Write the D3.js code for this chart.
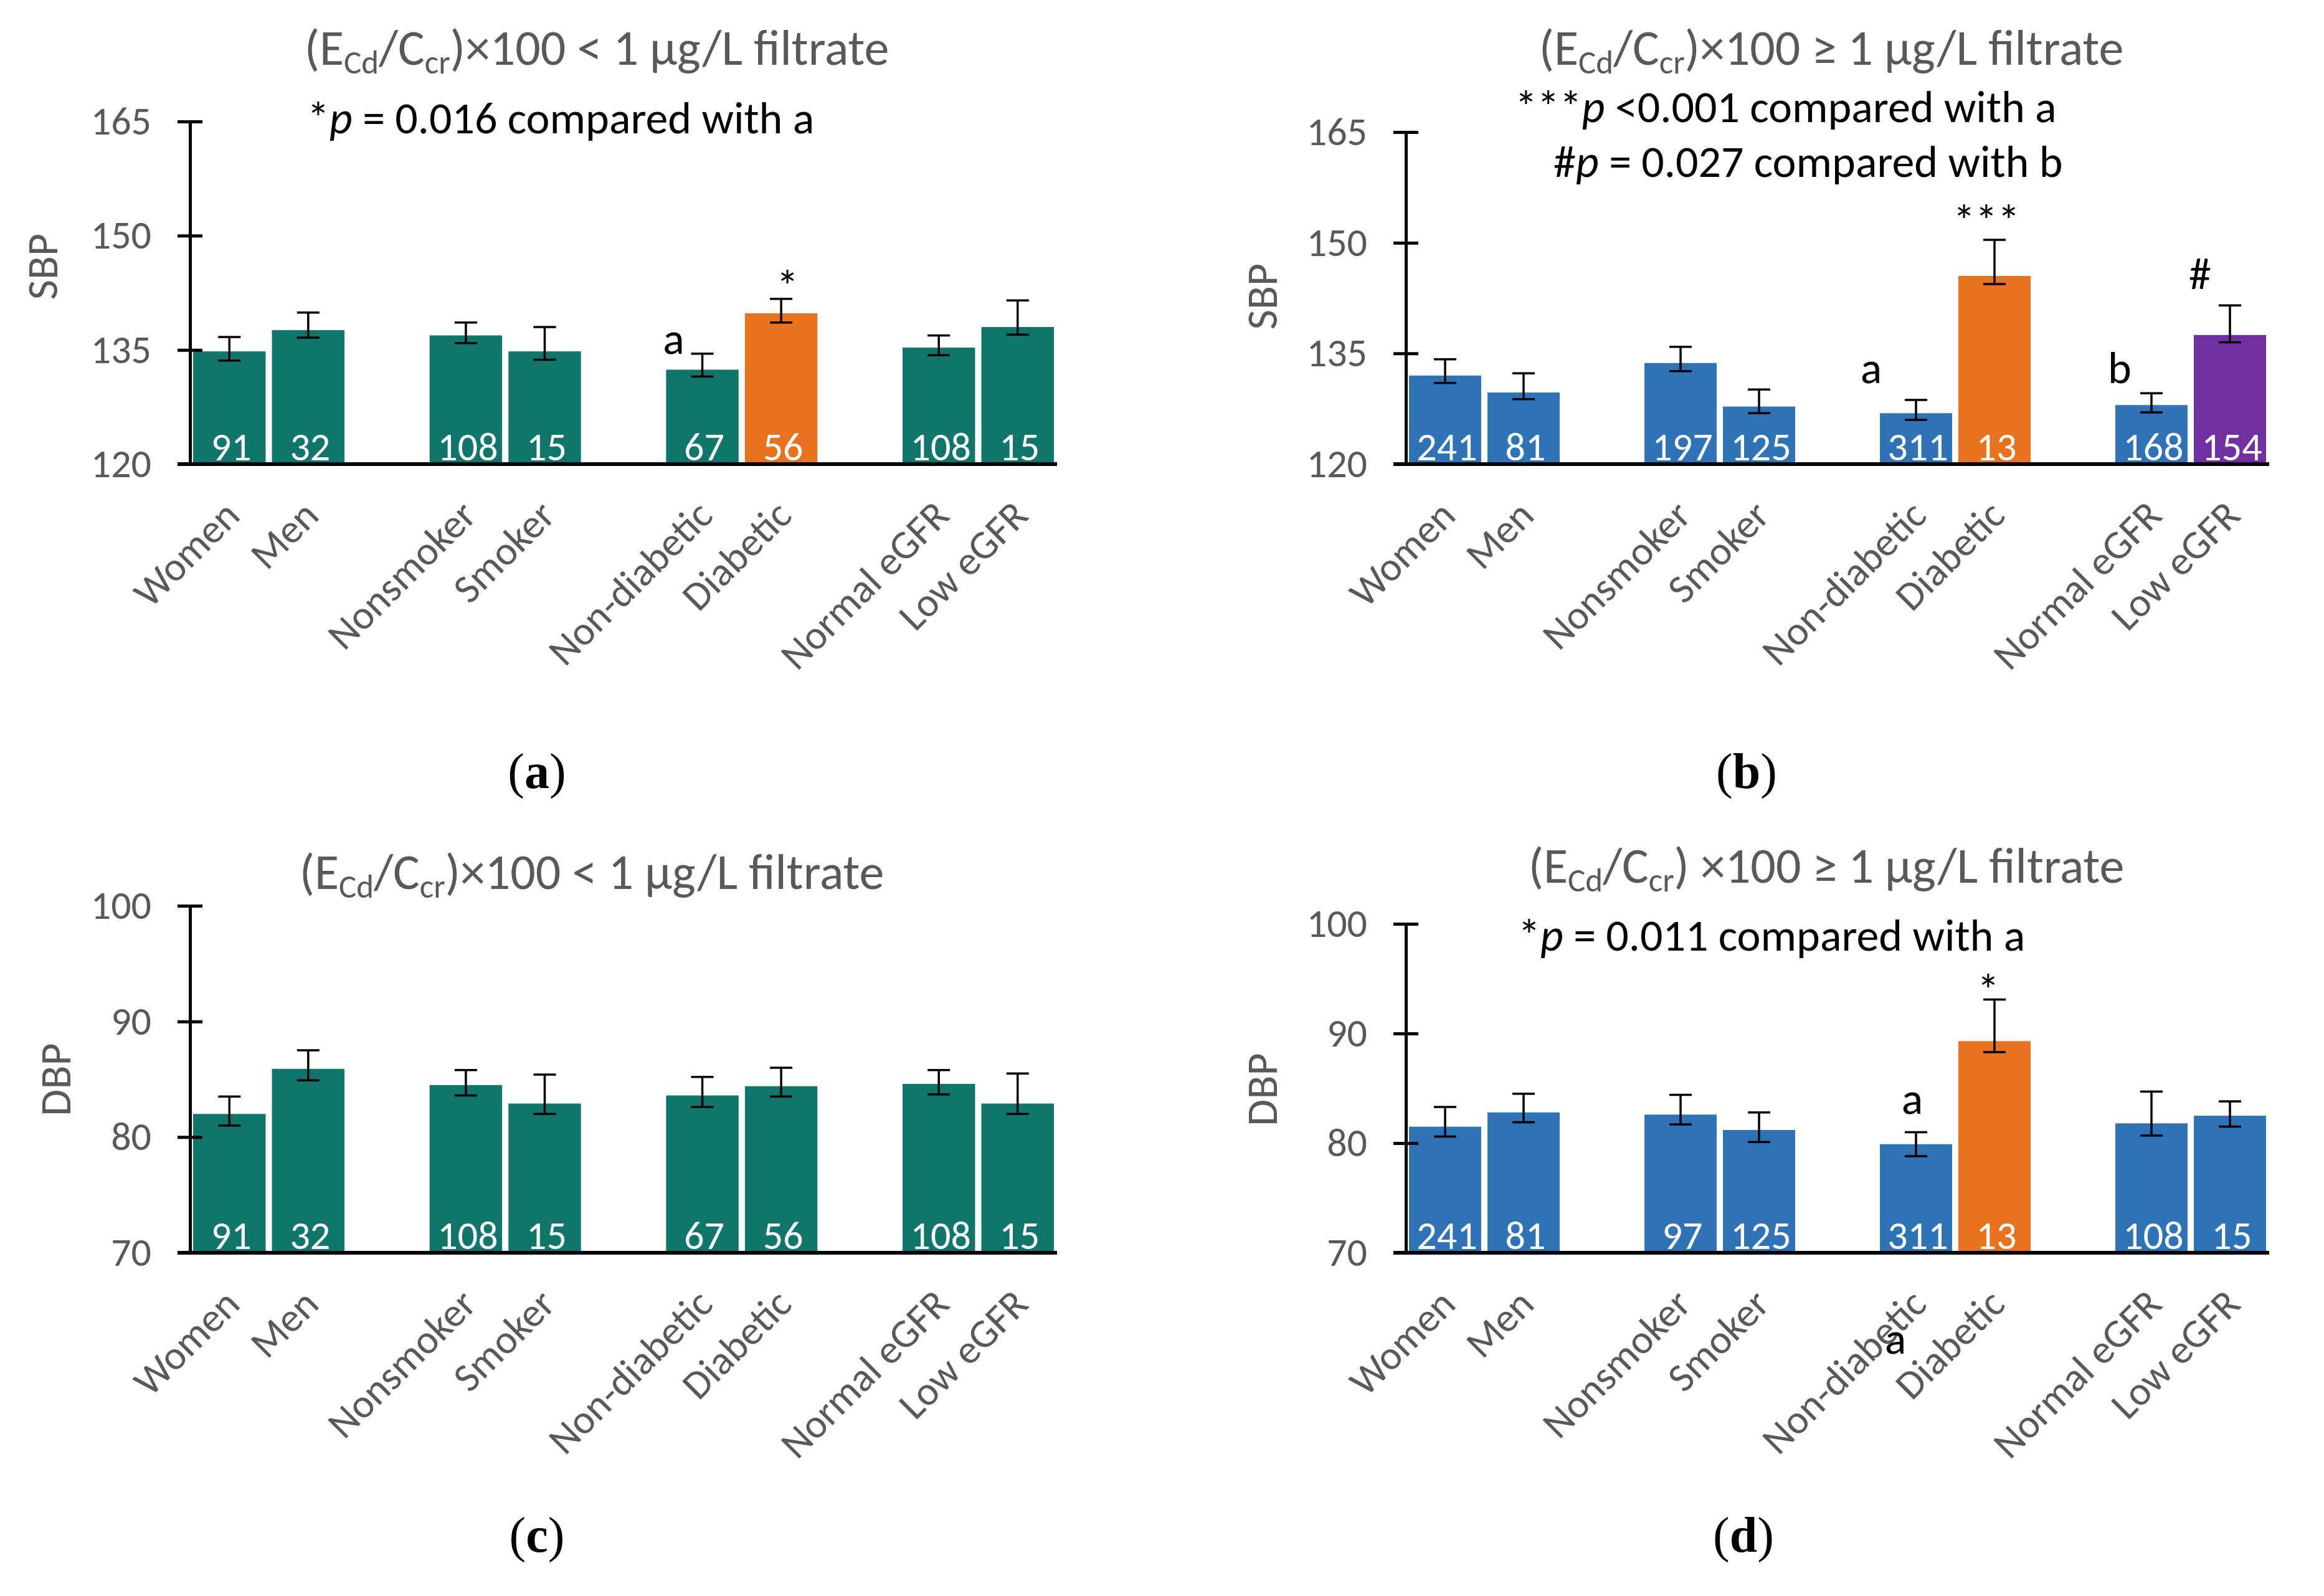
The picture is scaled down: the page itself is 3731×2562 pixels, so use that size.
<!DOCTYPE html>
<html>
<head>
<meta charset="utf-8">
<script src="https://cdn.jsdelivr.net/npm/d3@7"></script>
<style>
  body { margin: 0; background: #fff; }
  text { font-family: Carlito, Lato, sans-serif; }
</style>
</head>
<body>
<svg id="fig"></svg>
<script>
// groups on the x axis, with empty slots between the pairs
const slots = ["Women", "Men", "gap1", "Nonsmoker", "Smoker", "gap2",
  "Non-diabetic", "Diabetic", "gap3", "Normal eGFR", "Low eGFR"];
const categories = ["Women", "Men", "Nonsmoker", "Smoker", "Non-diabetic", "Diabetic", "Normal eGFR", "Low eGFR"];

const sbpTicks = [120, 135, 150, 165];
const dbpTicks = [70, 80, 90, 100];

// (a) SBP, (ECd/Ccr)x100 < 1
const sbpLowMean  = [134.8, 137.6, 136.9, 134.8, 132.4, 139.8, 135.3, 138.0];
const sbpLowUpper = [136.7, 139.9, 138.6, 138.0, 134.5, 141.7, 136.9, 141.5];
const sbpLowLower = [133.6, 136.6, 135.9, 133.7, 131.5, 138.6, 134.3, 137.0];
const lowN        = [91, 32, 108, 15, 67, 56, 108, 15];

// (b) SBP, (ECd/Ccr)x100 >= 1
const sbpHighMean  = [132.0, 129.7, 133.7, 127.8, 126.9, 145.5, 128.0, 137.5];
const sbpHighUpper = [134.2, 132.3, 135.9, 130.1, 128.7, 150.4, 129.6, 141.5];
const sbpHighLower = [131.0, 128.8, 132.6, 126.9, 126.0, 144.4, 127.0, 136.5];
const sbpHighN     = [241, 81, 197, 125, 311, 13, 168, 154];

// (c) DBP, < 1
const dbpLowMean  = [82.0, 85.9, 84.5, 82.9, 83.6, 84.4, 84.6, 82.9];
const dbpLowUpper = [83.5, 87.5, 85.8, 85.4, 85.2, 86.0, 85.8, 85.5];
const dbpLowLower = [81.0, 84.9, 83.6, 82.0, 82.6, 83.5, 83.7, 82.0];

// (d) DBP, >= 1
const dbpHighMean  = [81.5, 82.8, 82.6, 81.2, 79.9, 89.3, 81.8, 82.5];
const dbpHighUpper = [83.3, 84.5, 84.4, 82.8, 81.0, 93.1, 84.7, 83.8];
const dbpHighLower = [80.6, 81.9, 81.7, 80.1, 78.8, 88.3, 80.7, 81.5];
const dbpHighN     = [241, 81, 97, 125, 311, 13, 108, 15];

const teal = "#10756B", orange = "#E8721E", blue = "#2E73B6", purple = "#7030A0";
const colorsA = [teal, teal, teal, teal, teal, orange, teal, teal];
const colorsB = [blue, blue, blue, blue, blue, orange, blue, purple];
const colorsC = [teal, teal, teal, teal, teal, teal, teal, teal];
const colorsD = [blue, blue, blue, blue, blue, orange, blue, blue];

const gray = "#595959";

const W = 3731, H = 2562;
const svg = d3.select("#fig").attr("width", W).attr("height", H);

const panels = [
  { id: "a", x0: 305, x1: 1697, yTop: 195, yBot: 745, domain: [120, 165], ticks: sbpTicks,
    mean: sbpLowMean, upper: sbpLowUpper, lower: sbpLowLower, n: lowN, colors: colorsA,
    ylab: "SBP", ylabX: 67, ylabY: 428,
    title: { x: 958, y: 104, rel: "<", space: false },
    notes: [{ x: 493, y: 214, pre: "*", post: " = 0.016 compared with a" }],
    marks: [{ t: "a", i: 4, dx: -46, dy: 0 }, { t: "*", i: 5, dx: 10, dy: 4 }],
    label: { x: 862, y: 1265 } },
  { id: "b", x0: 2257, x1: 3643, yTop: 212, yBot: 745, domain: [120, 165], ticks: sbpTicks,
    mean: sbpHighMean, upper: sbpHighUpper, lower: sbpHighLower, n: sbpHighN, colors: colorsB,
    ylab: "SBP", ylabX: 2025, ylabY: 476,
    title: { x: 2940, y: 104, rel: "≥", space: false },
    notes: [{ x: 2432, y: 196, pre: "***", post: " <0.001 compared with a" },
            { x: 2494, y: 284, pre: "#", post: " = 0.027 compared with b" }],
    marks: [{ t: "a", i: 4, dx: -72, dy: -27 }, { t: "***", i: 5, dx: -13, dy: -6 },
            { t: "b", i: 6, dx: -51, dy: -16 }, { t: "#", i: 7, dx: -48, dy: -26 }],
    label: { x: 2804, y: 1265 } },
  { id: "c", x0: 305, x1: 1697, yTop: 1454, yBot: 2011, domain: [70, 100], ticks: dbpTicks,
    mean: dbpLowMean, upper: dbpLowUpper, lower: dbpLowLower, n: lowN, colors: colorsC,
    ylab: "DBP", ylabX: 88, ylabY: 1733,
    title: { x: 950, y: 1427, rel: "<", space: false },
    notes: [], marks: [],
    label: { x: 862, y: 2491 } },
  { id: "d", x0: 2257, x1: 3643, yTop: 1483, yBot: 2011, domain: [70, 100], ticks: dbpTicks,
    mean: dbpHighMean, upper: dbpHighUpper, lower: dbpHighLower, n: dbpHighN, colors: colorsD,
    ylab: "DBP", ylabX: 2025, ylabY: 1749,
    title: { x: 2932, y: 1417, rel: "≥", space: true },
    notes: [{ x: 2437, y: 1526, pre: "*", post: " = 0.011 compared with a" }],
    marks: [{ t: "a", i: 4, dx: -6, dy: -29 }, { t: "*", i: 5, dx: -10, dy: 10 },
            { t: "a", i: 4, dx: -33, axis: 162 }],
    label: { x: 2799, y: 2491 } }
];

panels.forEach(drawPanel);

function drawPanel(p) {
  const g = svg.append("g");

  const x = d3.scaleBand()
    .domain(slots)
    .range([p.x0, p.x1])
    .paddingInner(0.08)
    .paddingOuter(0.04);

  const y = d3.scaleLinear()
    .domain(p.domain)
    .range([p.yBot, p.yTop]);

  const data = categories.map((c, i) => ({
    cat: c, mean: p.mean[i], upper: p.upper[i], lower: p.lower[i], n: p.n[i], color: p.colors[i]
  }));
  const cx = d => x(d.cat) + x.bandwidth() / 2;

  // bars
  g.selectAll(".bar")
    .data(data)
    .enter().append("rect")
    .attr("class", "bar")
    .attr("x", d => x(d.cat))
    .attr("width", x.bandwidth())
    .attr("y", d => y(d.mean))
    .attr("height", d => p.yBot - y(d.mean))
    .attr("fill", d => d.color);

  // counts inside the bars
  g.selectAll(".count")
    .data(data)
    .enter().append("text")
    .attr("class", "count")
    .attr("x", d => cx(d) + 3)
    .attr("y", p.yBot - 6)
    .attr("text-anchor", "middle")
    .attr("fill", "#fff")
    .style("font-size", "64px")
    .text(d => d.n);

  // error bars
  const eb = g.selectAll(".err")
    .data(data)
    .enter().append("g")
    .attr("class", "err")
    .attr("stroke", "#000")
    .attr("stroke-width", 3.5);
  eb.append("line")
    .attr("x1", cx).attr("x2", cx)
    .attr("y1", d => y(d.lower)).attr("y2", d => y(d.upper));
  eb.append("line")
    .attr("x1", d => cx(d) - 18).attr("x2", d => cx(d) + 18)
    .attr("y1", d => y(d.upper)).attr("y2", d => y(d.upper));
  eb.append("line")
    .attr("x1", d => cx(d) - 18).attr("x2", d => cx(d) + 18)
    .attr("y1", d => y(d.lower)).attr("y2", d => y(d.lower));

  // y axis with cross ticks
  const ya = g.append("g")
    .attr("transform", "translate(" + p.x0 + ",0)")
    .call(d3.axisLeft(y).tickValues(p.ticks).tickSizeInner(20).tickSizeOuter(0).tickPadding(42));
  ya.select(".domain").attr("stroke", "#000").attr("stroke-width", 5);
  ya.selectAll(".tick line").attr("x1", 20).attr("stroke", "#000").attr("stroke-width", 5);
  ya.selectAll(".tick text")
    .attr("fill", gray)
    .style("font-size", "64px")
    .style("font-family", "Carlito, Lato, sans-serif");

  // x axis
  const xa = g.append("g")
    .attr("transform", "translate(0," + p.yBot + ")")
    .call(d3.axisBottom(x).tickSize(0).tickFormat(s => s.startsWith("gap") ? "" : s));
  xa.select(".domain").remove();
  xa.append("line")
    .attr("x1", p.x0 - 20).attr("x2", p.x1)
    .attr("stroke", "#000").attr("stroke-width", 6);
  xa.selectAll(".tick text")
    .attr("x", 0).attr("y", 0).attr("dy", 0)
    .attr("transform", "translate(20,86) rotate(-45)")
    .style("text-anchor", "end")
    .attr("fill", gray)
    .style("font-size", "65px")
    .style("font-family", "Carlito, Lato, sans-serif");

  // y axis title
  g.append("text")
    .attr("transform", "translate(" + p.ylabX + "," + p.ylabY + ") rotate(-90)")
    .attr("text-anchor", "middle")
    .attr("dy", "0.35em")
    .attr("fill", gray)
    .style("font-size", "70px")
    .text(p.ylab);

  // chart title with subscripts
  const t = g.append("text")
    .attr("x", p.title.x).attr("y", p.title.y)
    .attr("text-anchor", "middle")
    .attr("fill", gray)
    .style("font-size", "80px");
  t.append("tspan").text("(E");
  t.append("tspan").attr("font-size", "53px").attr("dy", 14).text("Cd");
  t.append("tspan").attr("dy", -14).text("/C");
  t.append("tspan").attr("font-size", "53px").attr("dy", 14).text("cr");
  t.append("tspan").attr("dy", -14)
    .text(")" + (p.title.space ? " " : "") + "×100 " + p.title.rel + " 1 μg/L filtrate");

  // p-value notes
  p.notes.forEach(nt => {
    const tx = g.append("text")
      .attr("x", nt.x).attr("y", nt.y)
      .attr("fill", "#000")
      .style("font-size", "72px");
    tx.append("tspan").text(nt.pre);
    tx.append("tspan").attr("font-style", "italic").text("p");
    tx.append("tspan").text(nt.post);
  });

  // significance letters / stars
  p.marks.forEach(m => {
    const d = data[m.i];
    const yy = m.axis !== undefined ? p.yBot + m.axis : y(d.upper) + m.dy;
    g.append("text")
      .attr("x", cx(d) + m.dx).attr("y", yy)
      .attr("text-anchor", "middle")
      .attr("fill", "#000")
      .style("font-size", "72px")
      .text(m.t);
  });

  // panel letter
  const lb = g.append("text")
    .attr("x", p.label.x).attr("y", p.label.y)
    .attr("text-anchor", "middle")
    .attr("fill", "#000")
    .style("font-family", "'Liberation Serif', 'DejaVu Serif', serif")
    .style("font-size", "80px");
  lb.append("tspan").text("(");
  lb.append("tspan").attr("font-weight", "bold").text(p.id);
  lb.append("tspan").text(")");
}
</script>
</body>
</html>
